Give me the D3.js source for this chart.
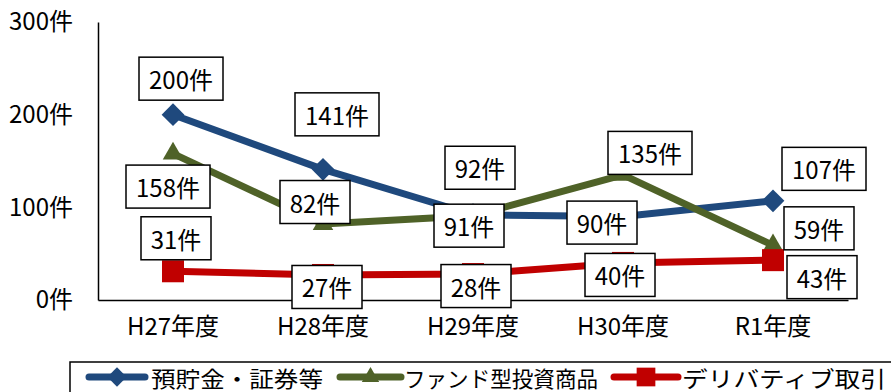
<!DOCTYPE html>
<html>
<head>
<meta charset="utf-8">
<script src="https://cdn.jsdelivr.net/npm/d3@7"></script>
<style>
  html, body { margin: 0; padding: 0; background: #fff; }
  svg { display: block; font-family: "Noto Sans CJK JP", "Noto Sans", sans-serif; }
</style>
</head>
<body>
<svg id="chart" width="891" height="392"></svg>
<script>
// Categories (fiscal years) and counts per series
const years = ["H27年度", "H28年度", "H29年度", "H30年度", "R1年度"];
const depositsSecurities = [200, 141, 92, 90, 107];
const fundProducts = [158, 82, 91, 135, 59];
const derivatives = [31, 27, 28, 40, 43];
const yTicks = [0, 100, 200, 300];
const unit = "件";

// Label box offsets from each point (dx, dy of the box centre)
const depositsLabelOffsets = [[8, -36], [14, -55], [7, -47], [-21, 6], [51, -32]];
const fundLabelOffsets = [[-5, 33], [-8, -22], [-4, 10], [27, -22], [46, -17]];
const derivLabelOffsets = [[3, -33], [4, 12], [3, 12], [-3, 12], [49, 17]];

const series = [
  { name: "預貯金・証券等", values: depositsSecurities, color: "#1f497d", marker: "diamond", offsets: depositsLabelOffsets },
  { name: "ファンド型投資商品", values: fundProducts, color: "#4f6228", marker: "triangle", offsets: fundLabelOffsets },
  { name: "デリバティブ取引", values: derivatives, color: "#c00000", marker: "square", offsets: derivLabelOffsets }
];

const svg = d3.select("#chart");
const plotLeft = 98, plotRight = 848, plotTop = 22, plotBottom = 300;

const x = d3.scaleBand().domain(years).range([plotLeft, plotRight]).padding(0);
const y = d3.scaleLinear().domain([0, 300]).range([plotBottom, plotTop]);
const cx = d => x(d) + x.bandwidth() / 2;

// Axes (lines only, no tick marks)
const yAxis = d3.axisLeft(y).tickValues(yTicks).tickSize(0).tickPadding(25).tickFormat(d => d + unit);
svg.append("g").attr("transform", `translate(${plotLeft},0)`).call(yAxis)
  .call(g => g.select(".domain").attr("stroke", "#000").attr("stroke-width", 1.5))
  .call(g => g.selectAll("text").attr("font-size", 24).attr("font-family", "Noto Sans CJK JP").attr("fill", "#000"));

const xAxis = d3.axisBottom(x).tickSize(0).tickPadding(18);
svg.append("g").attr("transform", `translate(0,${plotBottom})`).call(xAxis)
  .call(g => g.select(".domain").attr("stroke", "#000").attr("stroke-width", 1.5))
  .call(g => g.selectAll("text").attr("font-size", 24).attr("font-family", "Noto Sans CJK JP").attr("fill", "#000"));

// Marker shapes
function drawMarker(g, type, color, px, py, scale) {
  const s = scale || 1;
  if (type === "diamond") {
    g.append("path").attr("d", d3.symbol(d3.symbolDiamond2, 330 * s * s)()).attr("transform", `translate(${px},${py})`).attr("fill", color);
  } else if (type === "triangle") {
    g.append("path").attr("d", d3.symbol(d3.symbolTriangle2, 300 * s * s)()).attr("transform", `translate(${px},${py})`).attr("fill", color);
  } else {
    const w = 22 * s;
    g.append("rect").attr("x", px - w / 2).attr("y", py - w / 2).attr("width", w).attr("height", w).attr("fill", color);
  }
}

const line = d3.line().x((d, i) => cx(years[i])).y(d => y(d));

series.forEach(s => {
  const g = svg.append("g");
  g.append("path").datum(s.values).attr("d", line).attr("fill", "none")
    .attr("stroke", s.color).attr("stroke-width", 7).attr("stroke-linejoin", "round");
  s.values.forEach((v, i) => drawMarker(g, s.marker, s.color, cx(years[i]), y(v)));
});

// Value labels in white boxes
series.forEach(s => {
  s.values.forEach((v, i) => {
    const px = cx(years[i]) + s.offsets[i][0];
    const py = y(v) + s.offsets[i][1];
    const g = svg.append("g");
    g.append("text").attr("x", px).attr("y", py).attr("text-anchor", "middle")
      .attr("dominant-baseline", "central").attr("font-size", 24).attr("fill", "#000").text(v + unit);
    const w = String(v).length === 3 ? 84 : 70;
    const h = 43;
    g.insert("rect", "text").attr("x", px - w / 2).attr("y", py - h / 2).attr("width", w).attr("height", h)
      .attr("fill", "#fff").attr("stroke", "#000").attr("stroke-width", 1.5);
  });
});

// Legend
const legend = svg.append("g");
legend.append("rect").attr("x", 70).attr("y", 362).attr("width", 840).attr("height", 60)
  .attr("fill", "#fff").attr("stroke", "#000").attr("stroke-width", 1.5);
const legendPos = [
  { x0: 89, x1: 145, tx: 151, tw: 172 },
  { x0: 340, x1: 401, tx: 404, tw: 194 },
  { x0: 614, x1: 678, tx: 682, tw: 204 }
];
series.forEach((s, i) => {
  const p = legendPos[i];
  const ly = 377;
  legend.append("line").attr("x1", p.x0).attr("x2", p.x1).attr("y1", ly).attr("y2", ly)
    .attr("stroke", s.color).attr("stroke-width", 7).attr("stroke-linecap", "round");
  drawMarker(legend, s.marker, s.color, (p.x0 + p.x1) / 2, ly, 0.85);
  legend.append("text").attr("x", p.tx).attr("y", ly).attr("dominant-baseline", "central")
    .attr("font-size", 22).attr("fill", "#000")
    .attr("textLength", p.tw).attr("lengthAdjust", "spacingAndGlyphs").text(s.name);
});
</script>
</body>
</html>
